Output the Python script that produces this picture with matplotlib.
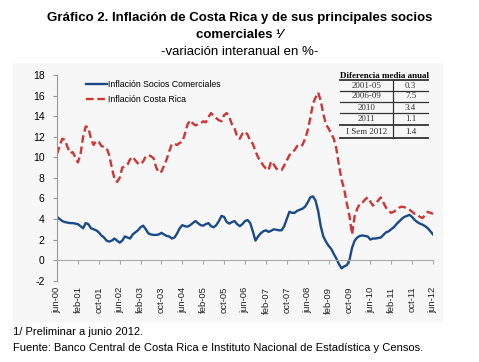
import matplotlib
matplotlib.use("Agg")
import matplotlib.pyplot as plt
import matplotlib.patches as patches
import numpy as np

# monthly data, jun-2000 .. jun-2012
socios = [4.2, 4.0, 3.8, 3.7, 3.65, 3.6, 3.6, 3.55, 3.5, 3.3,
          3.1, 3.6, 3.5, 3.1, 3.0, 2.9, 2.7, 2.4, 2.2, 1.9,
          1.8, 1.9, 2.1, 1.9, 1.7, 1.9, 2.3, 2.2, 2.1, 2.5,
          2.7, 2.9, 3.2, 3.35, 3.0, 2.6, 2.5, 2.45, 2.45, 2.5,
          2.65, 2.5, 2.35, 2.3, 2.1, 2.2, 2.6, 3.1, 3.4, 3.3,
          3.25, 3.4, 3.6, 3.8, 3.6, 3.4, 3.35, 3.5, 3.6, 3.3,
          3.2, 3.4, 3.8, 4.3, 4.2, 3.7, 3.55, 3.7, 3.8, 3.5,
          3.3, 3.5, 3.8, 3.9, 3.6, 2.8, 1.9, 2.3, 2.6, 2.8,
          2.9, 2.75, 2.85, 3.0, 2.95, 2.9, 2.9, 3.3, 4.0, 4.7,
          4.6, 4.6, 4.8, 4.9, 5.0, 5.2, 5.6, 6.1, 6.2, 5.8,
          4.8, 3.3, 2.3, 1.8, 1.4, 1.1, 0.6, 0.15, -0.4, -0.8,
          -0.6, -0.5, 0.0, 1.2, 1.9, 2.2, 2.35, 2.4, 2.35, 2.3,
          2.0, 2.1, 2.1, 2.15, 2.2, 2.45, 2.7, 2.8, 3.0, 3.2,
          3.5, 3.75, 4.0, 4.2, 4.3, 4.4, 4.2, 3.9, 3.7, 3.55,
          3.45, 3.3, 3.1, 2.8, 2.5]

costa_rica = [10.3, 11.1, 11.8, 11.7, 11.0, 10.4, 10.5, 10.0, 9.5, 10.3,
              12.0, 13.0, 12.9, 11.8, 11.2, 11.6, 11.5, 11.1, 11.0, 10.9,
              10.2, 9.0, 7.9, 7.6, 8.0, 9.0, 9.1, 9.3, 9.8, 10.05,
              9.7, 9.4, 9.3, 9.6, 10.1, 10.2, 10.1, 9.9, 9.0, 8.5,
              8.6, 9.2, 9.8, 10.6, 11.3, 11.3, 11.2, 11.4, 11.5, 12.3,
              13.2, 13.6, 13.3, 13.1, 13.2, 13.3, 13.5, 13.4, 13.9, 14.3,
              14.0, 13.8, 13.6, 13.5, 14.1, 14.3, 13.9, 13.2, 12.8, 12.0,
              11.8, 12.3, 12.5, 12.2, 11.6, 11.3, 10.6, 10.0, 9.6, 9.2,
              8.9, 8.75, 9.6, 9.3, 8.9, 8.75, 8.75, 9.2, 9.7, 10.2,
              10.5, 10.7, 11.1, 11.0, 11.2, 11.8, 12.6, 13.8, 15.2, 15.8,
              16.3, 15.5, 14.2, 13.2, 12.8, 12.3, 11.8, 10.8, 9.2, 7.8,
              6.9, 5.5, 4.3, 2.5, 4.3, 5.0, 5.5, 5.6, 5.9, 6.1,
              5.7, 5.3, 5.5, 5.8, 6.1, 5.6, 5.1, 4.8, 4.6, 4.7,
              4.9, 5.1, 5.2, 5.15, 5.05, 4.9, 4.7, 4.5, 4.4, 4.2,
              4.1, 4.4, 4.7, 4.6, 4.5]

tick_labels = ["jun-00", "feb-01", "oct-01", "jun-02", "feb-03", "oct-03",
               "jun-04", "feb-05", "oct-05", "jun-06", "feb-07", "oct-07",
               "jun-08", "feb-09", "oct-09", "jun-10", "feb-11", "oct-11",
               "jun-12"]

tabla_periodo = ["2001-05", "2006-09", "2010", "2011", "I Sem 2012"]
tabla_valor = ["0.3", "7.5", "3.4", "1.1", "1.4"]

W, H = 479, 362
fig = plt.figure(figsize=(W / 100, H / 100), dpi=100)
fig.patch.set_facecolor("white")

def fx(px):
    return px / W

def fy(py):
    return 1 - py / H

# light panel behind chart
fig.patches.append(patches.Rectangle((fx(13), fy(322)), fx(443) - fx(13), fy(63) - fy(322),
                                     transform=fig.transFigure, facecolor="#f6f7f6",
                                     edgecolor="none", zorder=-5))

# titles
fig.text(0.5, fy(18), "Gráfico 2. Inflación de Costa Rica y de sus principales socios",
         ha="center", va="center", fontsize=9.5, fontweight="bold", family="Liberation Sans")
fig.text(0.5, fy(35), "comerciales ¹⁄", ha="center", va="center", fontsize=9.5,
         fontweight="bold", family="Liberation Sans")
fig.text(0.5, fy(52), "-variación interanual en %-", ha="center", va="center",
         fontsize=9.5, family="Liberation Sans")

ax = fig.add_axes([fx(57), fy(280.7), fx(433) - fx(57), fy(75) - fy(280.7)], zorder=2)
ax.set_facecolor("none")

x = np.arange(len(socios))
ax.plot(x, socios, color="#1b4a8a", lw=1.7, label="Inflación Socios Comerciales")
ax.plot(x, costa_rica, color="#cf3535", lw=1.7, ls=(0, (3.2, 1.6)), label="Inflación Costa Rica")

for s in ["top", "right"]:
    ax.spines[s].set_visible(False)
ax.spines["left"].set_color("#999999")
ax.spines["bottom"].set_position(("data", 0))
ax.spines["bottom"].set_color("#aaaaaa")

# ticks after moving the spine (set_position resets them)
ax.set_xlim(0, 144)
ax.set_ylim(-2, 18)
ax.set_xticks(np.arange(0, 145, 8))
ax.set_xticklabels(tick_labels, rotation=90, fontsize=6.8, family="Liberation Sans", color="#222222")
ax.set_yticks(range(-2, 19, 2))
ax.set_yticklabels([str(v) for v in range(-2, 19, 2)], fontsize=7.5, family="Liberation Sans")
ax.tick_params(axis="y", length=3, color="#999999", pad=6)
ax.tick_params(axis="x", length=3, color="#aaaaaa", pad=16)

ax.legend(loc="upper left", bbox_to_anchor=(0.055, 1.015), frameon=False,
          handlelength=2.5, handletextpad=0.1, labelspacing=0.75,
          prop={"family": "Liberation Sans", "size": 6.3})

# small table
tx0, tx1, tdiv = 340, 428, 393
fig.text(fx((tx0 + tx1) / 2), fy(76), "Diferencia media anual", ha="center", va="center",
         fontsize=6.5, fontweight="bold", family="Liberation Serif", zorder=5)
row_lines = [80, 91, 102, 113, 125, 138]
for i, yl in enumerate(row_lines):
    lw = 1.3 if i in (0, 4, 5) else 0.9
    fig.add_artist(plt.Line2D([fx(tx0), fx(tx1)], [fy(yl), fy(yl)], color="#333333", lw=lw, zorder=5))
fig.add_artist(plt.Line2D([fx(tdiv), fx(tdiv)], [fy(80), fy(138)], color="#333333", lw=0.9, zorder=5))
for i, (p, v) in enumerate(zip(tabla_periodo, tabla_valor)):
    yc = (row_lines[i] + row_lines[i + 1]) / 2
    fig.text(fx((tx0 + tdiv) / 2), fy(yc), p, ha="center", va="center", fontsize=6.5,
             family="Liberation Serif", color="#333333", zorder=5)
    fig.text(fx((tdiv + tx1) / 2), fy(yc), v, ha="center", va="center", fontsize=6.5,
             family="Liberation Serif", color="#333333", zorder=5)

# notes
fig.text(fx(13), fy(332), "1/ Preliminar a junio 2012.", ha="left", va="center",
         fontsize=8, family="Liberation Sans")
fig.text(fx(13), fy(348), "Fuente: Banco Central de Costa Rica e Instituto Nacional de Estadística y Censos.",
         ha="left", va="center", fontsize=8, family="Liberation Sans")

fig.savefig("out.png", dpi=100)
